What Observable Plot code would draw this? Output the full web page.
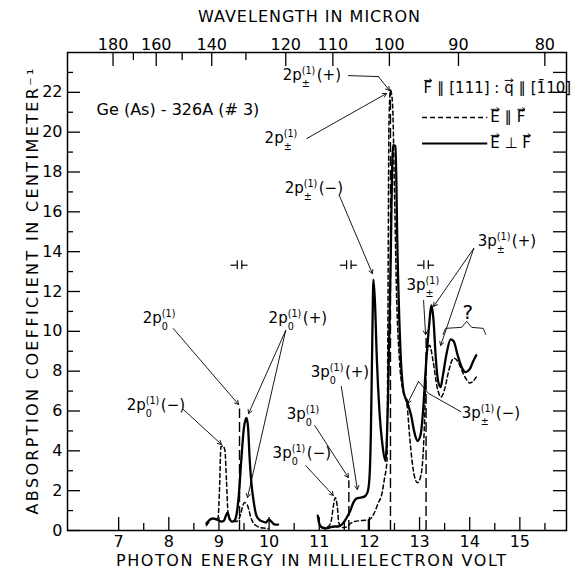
<!DOCTYPE html>
<html>
<head>
<meta charset="utf-8">
<script src="https://cdn.jsdelivr.net/npm/d3@7"></script>
<script src="https://cdn.jsdelivr.net/npm/@observablehq/plot@0.6"></script>
<style>
  html, body { margin: 0; padding: 0; background: #fff; }
  #chart svg { font-family: "DejaVu Sans", sans-serif; }
</style>
</head>
<body>
<div id="chart"></div>
<script>
// ---------- data ----------
const hc = 1239.84; // meV·µm

// E parallel F (dashed)
const parallelLowEnergy = [8.75, 8.81, 8.87, 8.93, 8.98, 9.01, 9.04, 9.08, 9.12, 9.15, 9.18, 9.21, 9.27, 9.33, 9.38, 9.43, 9.47, 9.51, 9.55, 9.59, 9.63, 9.68, 9.74, 9.82, 9.9, 9.98];
const parallelLowAbs    = [0.25, 0.45, 0.6, 0.6, 0.6, 2.0, 4.2, 4.25, 4.0, 2.5, 0.9, 0.55, 0.45, 0.45, 0.5, 0.8, 1.2, 1.4, 1.35, 1.1, 0.7, 0.4, 0.25, 0.15, 0.12, 0.1];
const parallelHighEnergy = [11.03, 11.1, 11.18, 11.24, 11.28, 11.32, 11.36, 11.39, 11.44, 11.5, 11.56, 11.62, 11.7, 11.85, 12.0, 12.1, 12.18, 12.24, 12.3, 12.35, 12.37, 12.39, 12.42, 12.46, 12.5, 12.54, 12.6, 12.67, 12.75, 12.8, 12.85, 12.9, 12.96, 13.02, 13.07, 13.1, 13.14, 13.2, 13.27, 13.35, 13.43, 13.5, 13.58, 13.68, 13.76, 13.85, 13.93, 14.0, 14.07, 14.13];
const parallelHighAbs    = [0.2, 0.15, 0.2, 0.5, 1.2, 1.65, 1.2, 0.4, 0.15, 0.15, 0.2, 0.35, 0.45, 0.5, 0.55, 0.9, 1.4, 1.75, 2.6, 3.5, 11, 20.5, 22.1, 21.5, 17, 12, 8.5, 7.0, 6.3, 4.8, 3.5, 2.7, 2.4, 2.7, 3.8, 5.5, 8.8, 9.3, 8.5, 7.2, 6.7, 7.1, 8.0, 8.65, 8.5, 8.0, 7.6, 7.4, 7.5, 7.7];

// E perpendicular F (solid)
const perpLowEnergy = [8.75, 8.8, 8.85, 8.9, 8.95, 9.0, 9.05, 9.1, 9.14, 9.17, 9.21, 9.26, 9.31, 9.35, 9.39, 9.45, 9.5, 9.55, 9.58, 9.61, 9.65, 9.69, 9.74, 9.8, 9.87, 9.94, 9.99, 10.03, 10.08, 10.13, 10.18];
const perpLowAbs    = [0.35, 0.5, 0.6, 0.6, 0.55, 0.5, 0.45, 0.5, 0.75, 0.9, 0.6, 0.45, 0.5, 0.8, 1.6, 3.7, 5.2, 5.65, 5.2, 3.7, 2.3, 1.5, 0.8, 0.55, 0.45, 0.4, 0.55, 0.5, 0.35, 0.3, 0.3];
const perpHighEnergy = [10.97, 11.0, 11.05, 11.12, 11.2, 11.3, 11.38, 11.45, 11.5, 11.56, 11.62, 11.68, 11.74, 11.82, 11.9, 11.96, 12.0, 12.03, 12.06, 12.08, 12.11, 12.15, 12.2, 12.26, 12.32, 12.37, 12.42, 12.47, 12.52, 12.56, 12.62, 12.68, 12.76, 12.83, 12.9, 12.96, 13.02, 13.07, 13.12, 13.18, 13.24, 13.28, 13.32, 13.37, 13.42, 13.46, 13.54, 13.62, 13.68, 13.76, 13.84, 13.92, 14.0, 14.07, 14.13];
const perpHighAbs    = [0.75, 0.35, 0.15, 0.1, 0.15, 0.2, 0.2, 0.3, 0.45, 0.7, 1.0, 1.4, 1.6, 1.65, 1.7, 1.9, 2.6, 5.0, 10.0, 12.6, 11.5, 8.5, 6.0, 4.3, 3.5, 6.5, 13.0, 19.35, 19.3, 14.0, 9.0, 7.0, 6.4, 5.8, 4.9, 4.5, 4.8, 6.0, 8.0, 10.0, 11.3, 10.5, 8.8, 7.5, 7.2, 7.7, 8.9, 9.6, 9.5, 8.8, 8.2, 7.95, 8.1, 8.5, 8.8];

// sharp lines drawn as long-dashed verticals
const lineEnergy = [9.41, 11.59, 11.98, 12.42, 13.13];
const lineTop    = [6.1, 2.5, 0.65, 22.1, 9.9];

// ticks
const energyTicks = [7, 8, 9, 10, 11, 12, 13, 14, 15];
const energyMinorTicks = [7.5, 8.5, 9.5, 10.5, 11.5, 12.5, 13.5, 14.5, 15.5];
const absTicks = [0, 2, 4, 6, 8, 10, 12, 14, 16, 18, 20, 22];
const absMinorTicks = [1, 3, 5, 7, 9, 11, 13, 15, 17, 19, 21, 23];
const absRightTicks = [1, 2, 3, 4, 5, 6, 7, 8, 9, 10, 11, 12, 13, 14, 15, 16, 17, 18, 19, 20, 21, 22, 23];
const wavelengthTicks = [180, 160, 140, 120, 110, 100, 90, 80];
const wavelengthMinorTicks = [170, 150, 130];

// titles
const titleTop = "WAVELENGTH IN MICRON";
const titleBottom = "PHOTON ENERGY IN MILLIELECTRON VOLT";
const titleLeft = "ABSORPTION COEFFICIENT IN CENTIMETER\u207B\u00B9";

// annotations (energy, absorption)
const labels = [
  {energy: 10.27, abs: 22.84, text: "2p^{(1)}_{±}(+)"},
  {energy: 9.91,  abs: 19.68, text: "2p^{(1)}_{±}"},
  {energy: 10.31, abs: 17.17, text: "2p^{(1)}_{±}(−)"},
  {energy: 7.48,  abs: 10.64, text: "2p^{(1)}_{0}"},
  {energy: 9.99,  abs: 10.64, text: "2p^{(1)}_{0}(+)"},
  {energy: 7.16,  abs: 6.28,  text: "2p^{(1)}_{0}(−)"},
  {energy: 10.83, abs: 7.93,  text: "3p^{(1)}_{0}(+)"},
  {energy: 10.35, abs: 5.82,  text: "3p^{(1)}_{0}"},
  {energy: 10.07, abs: 3.87,  text: "3p^{(1)}_{0}(−)"},
  {energy: 12.74, abs: 12.30, text: "3p^{(1)}_{±}"},
  {energy: 14.16, abs: 14.51, text: "3p^{(1)}_{±}(+)"},
  {energy: 13.84, abs: 5.87,  text: "3p^{(1)}_{±}(−)"}
];
const arrows = [
  {x1: 12.18, y1: 22.79, x2: 12.40, y2: 22.09},
  {x1: 10.75, y1: 19.68, x2: 12.34, y2: 21.94},
  {x1: 11.40, y1: 16.82, x2: 12.06, y2: 12.90},
  {x1: 8.09,  y1: 10.14, x2: 9.39,  y2: 6.33},
  {x1: 10.33, y1: 10.04, x2: 9.59,  y2: 5.87},
  {x1: 10.33, y1: 10.04, x2: 9.57,  y2: 1.66},
  {x1: 8.29,  y1: 6.08,  x2: 9.05,  y2: 4.32},
  {x1: 11.44, y1: 7.23,  x2: 11.76, y2: 2.06},
  {x1: 10.91, y1: 5.27,  x2: 11.58, y2: 2.66},
  {x1: 10.73, y1: 3.26,  x2: 11.28, y2: 1.76},
  {x1: 13.08, y1: 11.55, x2: 13.12, y2: 9.84},
  {x1: 14.08, y1: 14.16, x2: 13.28, y2: 11.25},
  {x1: 14.08, y1: 14.16, x2: 13.42, y2: 9.29},
  {x1: 12.98, y1: 7.48,  x2: 12.76, y2: 6.38}
];
const leaders = [
  {g: "a", energy: 11.58, abs: 22.84}, {g: "a", energy: 12.18, abs: 22.79},
  {g: "b", energy: 13.82, abs: 5.97}, {g: "b", energy: 13.18, abs: 6.88}, {g: "b", energy: 12.98, abs: 7.48},
  {g: "brace", energy: 13.47, abs: 9.85}, {g: "brace", energy: 13.52, abs: 10.15}, {g: "brace", energy: 13.84, abs: 10.2},
  {g: "brace", energy: 13.94, abs: 10.5}, {g: "brace", energy: 14.04, abs: 10.2}, {g: "brace", energy: 14.27, abs: 10.15},
  {g: "brace", energy: 14.32, abs: 9.85}
];
// resolution marks "⊣⊢" at these energies
const resolutionMarks = [9.41, 11.59, 13.13];

// legend
const legendTitle = "~{F} \u2225 [111] : ~{q} \u2225 [1\u030410]";
const legendRows = [
  {label: "~{E} \u2225 ~{F}", abs: 20.74, dashed: true},
  {label: "~{E} \u22A5 ~{F}", abs: 19.43, dashed: false}
];

// ---------- tables ----------
const toRows = (E, A, seg) => E.map((e, i) => ({energy: e, abs: A[i], seg}));
const parallel = [...toRows(parallelLowEnergy, parallelLowAbs, "low"), ...toRows(parallelHighEnergy, parallelHighAbs, "high")];
const perp = [...toRows(perpLowEnergy, perpLowAbs, "low"), ...toRows(perpHighEnergy, perpHighAbs, "high")];
const sharpLines = lineEnergy.map((e, i) => ({energy: e, top: lineTop[i]}));
const resH = resolutionMarks.flatMap(e => [{x1: e - 0.17, x2: e - 0.045}, {x1: e + 0.045, x2: e + 0.17}]);
const resV = resolutionMarks.flatMap(e => [e - 0.045, e + 0.045]);

const FH = 574 - 52 - 44; // frame height
const FW = 572 - 67 - 6;  // frame width

const plot = Plot.plot({
  width: 572, height: 574,
  marginLeft: 67, marginRight: 6, marginTop: 52, marginBottom: 44,
  x: {domain: [5.98, 15.93]},
  y: {domain: [0, 24]},
  style: {fontFamily: '"DejaVu Sans", sans-serif', fontSize: "16px", color: "black", background: "white"},
  marks: [
    Plot.frame({stroke: "black", strokeWidth: 1.5}),
    // bottom ticks (inward)
    Plot.ruleX(energyTicks, {x: d => d, insetTop: FH - 13, strokeWidth: 1.3}),
    Plot.ruleX(energyMinorTicks, {x: d => d, insetTop: FH - 7, strokeWidth: 1.3}),
    // top wavelength ticks (inward)
    Plot.ruleX(wavelengthTicks, {x: l => hc / l, insetBottom: FH - 14, strokeWidth: 1.3}),
    Plot.ruleX(wavelengthMinorTicks, {x: l => hc / l, insetBottom: FH - 8, strokeWidth: 1.3}),
    // left ticks
    Plot.ruleY(absTicks, {y: d => d, insetRight: FW - 13, strokeWidth: 1.3}),
    Plot.ruleY(absMinorTicks, {y: d => d, insetRight: FW - 6, strokeWidth: 1.3}),
    // right ticks
    Plot.ruleY(absRightTicks, {y: d => d, insetLeft: FW - 13, strokeWidth: 1.3}),
    // tick labels
    Plot.axisX(energyTicks, {anchor: "bottom", tickSize: 0, tickPadding: 5, label: null, fontSize: 16}),
    Plot.axisY(absTicks, {anchor: "left", tickSize: 0, tickPadding: 5, label: null, fontSize: 16}),
    Plot.text(wavelengthTicks, {x: l => hc / l, frameAnchor: "top", lineAnchor: "middle", dy: -8, text: d => String(d), fontSize: 16}),
    // axis titles
    Plot.text([titleTop], {frameAnchor: "top", lineAnchor: "middle", textAnchor: "middle", dy: -36, dx: -8, text: d => d, fontSize: 16}),
    Plot.text([titleBottom], {frameAnchor: "bottom", lineAnchor: "middle", textAnchor: "middle", dy: 30, dx: -6, text: d => d, fontSize: 16}),
    Plot.text([titleLeft], {frameAnchor: "left", lineAnchor: "middle", textAnchor: "middle", dx: -35, dy: 0, rotate: -90, text: d => d, fontSize: 16}),
    // sharp lines
    Plot.ruleX(sharpLines, {x: "energy", y1: 0, y2: "top", strokeDasharray: "10,4", strokeWidth: 1.4}),
    // spectra
    Plot.line(parallel, {x: "energy", y: "abs", z: "seg", curve: "monotone-x", stroke: "black", strokeWidth: 1.5, strokeDasharray: "4,3"}),
    Plot.line(perp, {x: "energy", y: "abs", z: "seg", curve: "monotone-x", stroke: "black", strokeWidth: 2.3}),
    // annotations
    Plot.text(["Ge (As) - 326A (# 3)"], {x: 6.56, y: 21.14, text: d => d, textAnchor: "start", fontSize: 16}),
    Plot.text(labels, {x: "energy", y: "abs", text: "text", textAnchor: "start", fontSize: 15}),
    Plot.arrow(arrows, {x1: "x1", y1: "y1", x2: "x2", y2: "y2", stroke: "black", strokeWidth: 0.9, headLength: 7}),
    Plot.line(leaders, {x: "energy", y: "abs", z: "g", stroke: "black", strokeWidth: 0.9}),
    Plot.text(["?"], {x: 13.96, y: 10.95, text: d => d, fontSize: 20}),
    // resolution marks ⊣⊢ drawn as strokes
    Plot.ruleY(resH, {x1: "x1", x2: "x2", y: 13.32, strokeWidth: 1.2}),
    Plot.ruleX(resV, {x: d => d, y1: 13.1, y2: 13.54, strokeWidth: 1.2}),
    // legend
    Plot.text([legendTitle], {x: 13.08, y: 22.19, text: d => d, textAnchor: "start", fontSize: 15}),
    Plot.ruleY(legendRows.filter(d => d.dashed), {y: "abs", x1: 13.06, x2: 14.36, strokeDasharray: "5,3", strokeWidth: 1.5}),
    Plot.ruleY(legendRows.filter(d => !d.dashed), {y: "abs", x1: 13.06, x2: 14.36, strokeWidth: 2}),
    Plot.text(legendRows, {x: 14.41, y: "abs", text: "label", textAnchor: "start", fontSize: 15})
  ]
});

document.getElementById("chart").appendChild(plot);

// stretch axis titles to the reference's letter spacing
const titleLengths = new Map([[titleTop, 222], [titleBottom, 390], [titleLeft, 446]]);
plot.querySelectorAll("text").forEach(t => {
  const len = titleLengths.get(t.textContent);
  if (len) {
    t.setAttribute("textLength", len);
    t.setAttribute("lengthAdjust", "spacing");
  }
});

// ---------- rich text: ^{sup}, _{sub} (stacked under sup), ~{vector letter} ----------
(function richify(svg) {
  const NS = "http://www.w3.org/2000/svg";
  svg.querySelectorAll("text").forEach(node => {
    const raw = node.textContent;
    if (!/[\^_~]\{/.test(raw)) return;
    const fs = parseFloat(getComputedStyle(node).fontSize) || 15;
    while (node.firstChild) node.removeChild(node.firstChild);
    const tokens = raw.split(/(\^\{[^}]*\}|_\{[^}]*\}|~\{[^}]*\})/).filter(s => s);
    let level = 0, supSpan = null, pending = 0;
    const vectors = [];
    const add = (content, target, small) => {
      const ts = document.createElementNS(NS, "tspan");
      ts.textContent = content;
      if (small) ts.setAttribute("font-size", (small * fs).toFixed(1) + "px");
      const dy = target - level;
      if (dy) ts.setAttribute("dy", dy.toFixed(1));
      level = target;
      node.appendChild(ts);
      return ts;
    };
    for (const tok of tokens) {
      let ts;
      if (tok.startsWith("^{")) {
        ts = add(tok.slice(2, -1), -0.42 * fs, 0.64);
        if (pending) { ts.setAttribute("dx", pending.toFixed(1)); pending = 0; }
        supSpan = ts;
      } else if (tok.startsWith("_{")) {
        ts = add(tok.slice(2, -1), 0.42 * fs, 0.64);
        if (supSpan) {
          const w = supSpan.getComputedTextLength();
          ts.setAttribute("dx", (-w).toFixed(1));
          pending = Math.max(0, w - ts.getComputedTextLength()) + 1.5;
        }
        supSpan = null;
      } else if (tok.startsWith("~{")) {
        ts = add(tok.slice(2, -1), 0, 0);
        if (pending) { ts.setAttribute("dx", pending.toFixed(1)); pending = 0; }
        vectors.push(ts);
        supSpan = null;
      } else {
        ts = add(tok, 0, 0);
        if (pending) { ts.setAttribute("dx", pending.toFixed(1)); pending = 0; }
        supSpan = null;
      }
    }
    // vector arrows above letters (drawn as strokes in the text's own coordinates)
    vectors.forEach(ts => {
      const idx = Array.from(node.childNodes).indexOf(ts);
      let offset = 0;
      for (let k = 0; k < idx; k++) offset += node.childNodes[k].textContent.length;
      const p0 = node.getStartPositionOfChar(offset);
      const p1 = node.getEndPositionOfChar(offset);
      const y = p0.y - 0.86 * fs;
      const xa = p0.x + 0.5, xb = p1.x - 0.5;
      const path = document.createElementNS(NS, "path");
      path.setAttribute("d", `M${xa},${y}H${xb}M${xb - 2.6},${y - 1.8}L${xb},${y}L${xb - 2.6},${y + 1.8}`);
      path.setAttribute("fill", "none");
      path.setAttribute("stroke", "black");
      path.setAttribute("stroke-width", "0.9");
      const tr = node.getAttribute("transform");
      if (tr) path.setAttribute("transform", tr);
      node.parentNode.appendChild(path);
    });
  });
})(plot);
</script>
</body>
</html>
